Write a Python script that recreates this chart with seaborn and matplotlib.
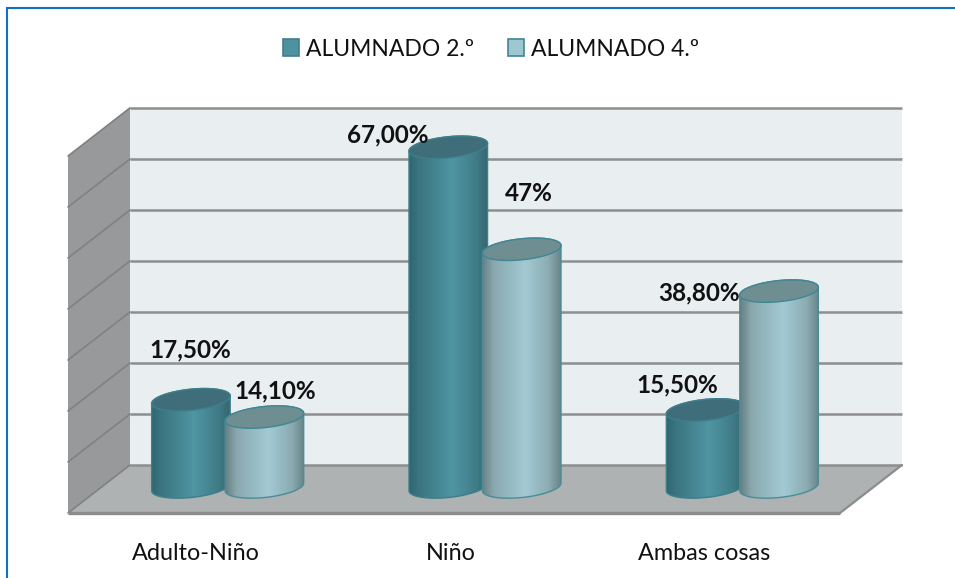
import numpy as np
import matplotlib
matplotlib.use('Agg')
import matplotlib.pyplot as plt
import seaborn as sns
import pandas as pd
from matplotlib.colors import LinearSegmentedColormap
from matplotlib.lines import Line2D
from matplotlib.patches import Patch, Polygon
from matplotlib.transforms import Affine2D

categories = ['Adulto-Niño', 'Niño', 'Ambas cosas']
series_names = ['ALUMNADO 2.º', 'ALUMNADO 4.º']
alumnado_2 = [17.5, 67.0, 15.5]
alumnado_4 = [14.1, 47.0, 38.8]
labels_2 = ['17,50%', '67,00%', '15,50%']
labels_4 = ['14,10%', '47%', '38,80%']
grid_values = [0, 10, 20, 30, 40, 50, 60, 70]

W, H = 955, 578
DEPTH_X, DEPTH_Y = 31, 24
Y_MIN = -10  # room under the baseline for the round cylinder bottoms

# label offsets from the top of each cylinder, pixels
offsets_2 = [(-1, 50), (-61, 12), (-28, 25)]
offsets_4 = [(11, 26), (7, 56), (-80, -2)]
tick_shifts = [-32, -34, -38]

sns.set_theme(style='white')
plt.rcParams['font.family'] = ['Lato', 'DejaVu Sans']

df = pd.DataFrame({
    'cat': categories * 2,
    'serie': [series_names[0]] * 3 + [series_names[1]] * 3,
    'valor': alumnado_2 + alumnado_4,
})

px_x = 772 / 3
px_y = 357 / 70

fig = plt.figure(figsize=(W / 100, H / 100), dpi=100, facecolor='white')
ax_bottom = 489 - Y_MIN * px_y
ax = fig.add_axes([99 / W, 1 - ax_bottom / H, 772 / W, (ax_bottom - 132) / H])
ax.patch.set_alpha(0)

sns.barplot(data=df, x='cat', y='valor', hue='serie', width=0.571, gap=-0.075,
            palette=['#4F929F', '#A0C7D1'], legend=False, ax=ax)
ax.set_xlim(-0.5, 2.5)
ax.set_ylim(Y_MIN, 70)
sns.despine(ax=ax, left=True, bottom=True)
ax.set_xlabel('')
ax.set_ylabel('')
ax.set_yticks([])

back = ax.transData + Affine2D().translate(DEPTH_X, DEPTH_Y)
front = ax.transData + Affine2D().translate(-DEPTH_X, -DEPTH_Y)

# back wall, left wall, floor
ax.add_patch(Polygon([(-0.5, 0), (2.5, 0), (2.5, 70), (-0.5, 70)], transform=back,
                     fc='#E9EEF1', ec='none', zorder=0, clip_on=False))
ax.fill([99 - DEPTH_X, 99 + DEPTH_X, 99 + DEPTH_X, 99 - DEPTH_X],
        [578 - 513, 578 - 465, 578 - 107, 578 - 156],
        transform=None, fc='#97999B', ec='none', zorder=0, clip_on=False)
ax.fill([99 - DEPTH_X, 99 + DEPTH_X, 871 + DEPTH_X, 871 - DEPTH_X],
        [578 - 513, 578 - 465, 578 - 465, 578 - 513],
        transform=None, fc='#AEB2B2', ec='none', zorder=0.5, clip_on=False)

for v in grid_values:
    ax.plot([-0.5, 2.5], [v, v], transform=back, color='#8E8E8E', lw=1.8,
            zorder=0.6, clip_on=False, solid_capstyle='butt')
    y_back = 489 - v * px_y - DEPTH_Y
    ax.plot([99 - DEPTH_X, 99 + DEPTH_X], [578 - y_back - 2 * DEPTH_Y, 578 - y_back],
            transform=None, color='#818181', lw=1.2, zorder=0.6, clip_on=False)
ax.plot([-0.5, 2.5], [0, 0], transform=front, color='#8C8C8C', lw=2.4, zorder=0.7,
        clip_on=False, solid_capstyle='butt')
ax.plot([871 - DEPTH_X, 871 + DEPTH_X], [578 - 513, 578 - 465], transform=None,
        color='#8C8C8C', lw=1.6, zorder=0.7, clip_on=False)

cmap_dark = LinearSegmentedColormap.from_list(
    'dark', [(0, '#2F6570'), (0.12, '#3A7580'), (0.55, '#5095A2'), (0.85, '#3F7C88'), (1, '#37666F')])
cmap_light = LinearSegmentedColormap.from_list(
    'light', [(0, '#677F83'), (0.15, '#8AA9AF'), (0.55, '#A3CAD4'), (0.85, '#8BABB1'), (1, '#688589')])
styles = [(cmap_dark, '#3F6E7A', '#3E7F8B', '#3D7F8B'), (cmap_light, '#6E8E92', '#3F8793', '#4A8C97')]


def ellipse(cx, v, a, b=10.5, rot=np.deg2rad(6), t=None):
    if t is None:
        t = np.linspace(0, 2 * np.pi, 80)
    dx = a * np.cos(t) * np.cos(rot) - b * np.sin(t) * np.sin(rot)
    dy = a * np.cos(t) * np.sin(rot) + b * np.sin(t) * np.cos(rot)
    return cx + dx / px_x, v + dy / px_y


bars = list(ax.patches)[:6]
grad = np.linspace(0, 1, 256).reshape(1, -1)
for i, bar in enumerate(bars):
    s = i // 3
    cat_i = i % 3
    cmap, top_fc, top_ec, body_ec = styles[s]
    x0, w, v = bar.get_x(), bar.get_width(), bar.get_height()
    cx = x0 + w / 2
    a = w * px_x / 2
    bar.set_visible(False)
    z = 2 + cat_i + s * 0.5

    # silhouette: upper arc of the top ellipse, lower arc of the bottom one
    tx, ty = ellipse(cx, v, a, t=np.linspace(0, np.pi, 50))
    bx, by = ellipse(cx, 0.4, a, t=np.linspace(np.pi, 2 * np.pi, 50))
    pts = np.column_stack([np.r_[tx, bx], np.r_[ty, by]])
    body = Polygon(pts, closed=True, fc='none', ec=body_ec, lw=1.0, zorder=z + 0.2, clip_on=False)
    ax.add_patch(body)
    im = ax.imshow(grad, cmap=cmap, aspect='auto', zorder=z,
                   extent=(x0, x0 + w, Y_MIN, v + 4))
    im.set_clip_path(body)

    ex, ey = ellipse(cx, v, a)
    ax.fill(ex, ey, fc=top_fc, ec=top_ec, lw=1.0, zorder=z + 0.3, clip_on=False)

    txt = (labels_2 if s == 0 else labels_4)[cat_i]
    off = (offsets_2 if s == 0 else offsets_4)[cat_i]
    ax.annotate(txt, xy=(cx, v), xytext=(off[0] * 0.72, off[1] * 0.72),
                textcoords='offset points', ha='center', va='center',
                fontsize=17.5, fontweight='bold', color='#111111', zorder=20)

ax.set_xlim(-0.5, 2.5)
ax.set_ylim(Y_MIN, 70)

ax.set_xticks(range(3))
ax.set_xticklabels(categories, fontsize=16.8, color='#111111')
ax.tick_params(axis='x', length=0, pad=2)
for lab, shift in zip(ax.get_xticklabels(), tick_shifts):
    lab.set_transform(lab.get_transform() + Affine2D().translate(shift, 0))

handles = [Patch(fc='#4F929F', ec='#3E7F8B', lw=1.2), Patch(fc='#A0C7D1', ec='#3F8793', lw=1.2)]
fig.legend(handles, series_names, loc='center', bbox_to_anchor=(491 / W, 1 - 49 / H),
           ncol=2, frameon=False, fontsize=16.5, handlelength=0.7, handleheight=0.7,
           handletextpad=0.3, columnspacing=1.5, labelcolor='#111111')

# only the top and left frame lines show
fig.add_artist(Line2D([6.5 / W, 1], [1 - 7.5 / H] * 2, color='#1070C4', lw=1.5))
fig.add_artist(Line2D([6.5 / W] * 2, [0, 1 - 7.5 / H], color='#1070C4', lw=1.5))

fig.savefig('out.png', dpi=100)
